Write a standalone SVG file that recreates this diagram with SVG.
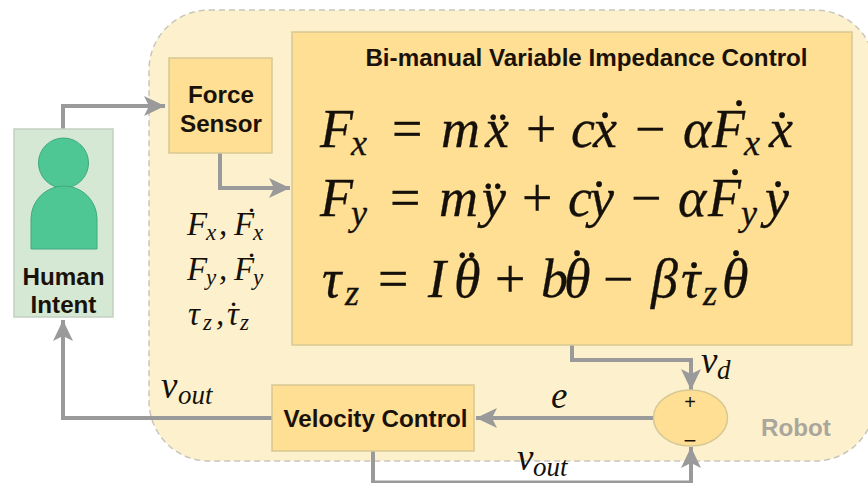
<svg xmlns="http://www.w3.org/2000/svg" width="868" height="483" viewBox="0 0 868 483">
<style>
.box{fill:#fedf94;stroke:#d8c894;stroke-width:1.5}
.t{font-family:"Liberation Sans",Arial,sans-serif;font-weight:700;font-size:24.2px;fill:#1a1208;text-anchor:middle}
.m{font-family:"Liberation Serif","Times New Roman",serif;font-style:italic;font-size:54px;fill:#15110a;stroke:#15110a;stroke-width:.3}
.m .r,.s .r,.l .r{font-style:normal}
.m .s2{font-size:36px}
.s{font-family:"Liberation Serif","Times New Roman",serif;font-style:italic;font-size:33px;fill:#15110a}
.s .s2{font-size:23px}
.l{font-family:"Liberation Serif","Times New Roman",serif;font-style:italic;font-size:37px;fill:#15110a}
.l .s2{font-size:27px}
.c{fill:none;stroke:#9a9a9a;stroke-width:4}
</style>
<defs>
<marker id="a" markerUnits="userSpaceOnUse" markerWidth="24" markerHeight="24" refX="22" refY="12" orient="auto">
<path d="M1 2 L22 12 L1 22 L6 12 Z" fill="#9a9a9a"/>
</marker>
</defs>
<rect width="868" height="483" fill="#fff"/>
<g id="robot">
<rect x="149" y="10" width="726" height="451" rx="60" ry="60" fill="#fdf1cd" stroke="#c8c6bc" stroke-width="1.5" stroke-dasharray="6 4"/>
<text x="796" y="436" class="t" style="fill:#aaa69c">Robot</text>
</g>
<g id="connectors">
<path class="c" d="M63 129V106H165" marker-end="url(#a)"/>
<path class="c" d="M220 153V188H290" marker-end="url(#a)"/>
<path class="c" d="M272 418H63V320" marker-end="url(#a)"/>
<path class="c" d="M572 345V360H691V390" marker-end="url(#a)"/>
<path class="c" d="M654 418H476" marker-end="url(#a)"/>
<path class="c" d="M373 451V482.5H691V447" marker-end="url(#a)"/>
</g>
<g id="human">
<rect x="14" y="129" width="99" height="188" fill="#d5e8d4" stroke="#c4d0c0" stroke-width="1.5"/>
<circle cx="63.5" cy="163" r="25" fill="#4fc795" stroke="#3fa87e"/>
<path d="M31 249V219A33 33 0 0 1 97 219V249Z" fill="#4fc795" stroke="#3fa87e"/>
<text x="63.5" y="285" class="t">Human</text>
<text x="63.5" y="313" class="t">Intent</text>
</g>
<g id="force-sensor">
<rect x="169" y="58" width="103" height="95" class="box"/>
<text x="221" y="103" class="t">Force</text>
<text x="221" y="132" class="t">Sensor</text>
</g>
<g id="impedance-control">
<rect x="292" y="32" width="560" height="313" class="box"/>
<text x="586.5" y="66" class="t">Bi-manual Variable Impedance Control</text>
<text class="m" y="147"><tspan x="320">F</tspan><tspan class="s2" x="351" y="155">x</tspan><tspan class="r" x="392" y="147">=</tspan><tspan x="441">m</tspan><tspan x="485">x</tspan><tspan class="r" x="489" y="149">¨</tspan><tspan class="r" x="526" y="147">+</tspan><tspan x="571">c</tspan><tspan x="593">x</tspan><tspan class="r" x="596" y="149">˙</tspan><tspan class="r" x="635" y="147">−</tspan><tspan x="683">α</tspan><tspan x="712">F</tspan><tspan class="r" x="730" y="137">˙</tspan><tspan class="s2" x="744" y="155">x</tspan><tspan x="769" y="147">x</tspan><tspan class="r" x="773" y="149">˙</tspan></text>
<text class="m" y="216"><tspan x="320">F</tspan><tspan class="s2" x="351" y="225">y</tspan><tspan class="r" x="390" y="216">=</tspan><tspan x="439">m</tspan><tspan x="482">y</tspan><tspan class="r" x="484" y="218">¨</tspan><tspan class="r" x="522" y="216">+</tspan><tspan x="568">c</tspan><tspan x="590">y</tspan><tspan class="r" x="590" y="218">˙</tspan><tspan class="r" x="631" y="216">−</tspan><tspan x="678">α</tspan><tspan x="708">F</tspan><tspan class="r" x="726" y="206">˙</tspan><tspan class="s2" x="741" y="225">y</tspan><tspan x="765" y="216">y</tspan><tspan class="r" x="769" y="218">˙</tspan></text>
<text class="m" y="297"><tspan x="322">τ</tspan><tspan class="s2" x="345" y="305">z</tspan><tspan class="r" x="378" y="297">=</tspan><tspan x="428">I</tspan><tspan x="454">θ</tspan><tspan class="r" x="458" y="287">¨</tspan><tspan class="r" x="495" y="297">+</tspan><tspan x="541">b</tspan><tspan x="564">θ</tspan><tspan class="r" x="568" y="287">˙</tspan><tspan class="r" x="603" y="297">−</tspan><tspan x="651">β</tspan><tspan x="681">τ</tspan><tspan class="r" x="685" y="299">˙</tspan><tspan class="s2" x="703" y="305">z</tspan><tspan x="722" y="297">θ</tspan><tspan class="r" x="727" y="287">˙</tspan></text>
</g>
<g id="force-labels">
<text class="s" y="235"><tspan x="187">F</tspan><tspan class="s2" x="206" y="240">x</tspan><tspan x="219" y="235">,</tspan><tspan x="234">F</tspan><tspan class="r" x="246" y="231">˙</tspan><tspan class="s2" x="253" y="240">x</tspan></text>
<text class="s" y="280"><tspan x="187">F</tspan><tspan class="s2" x="206" y="285">y</tspan><tspan x="219" y="280">,</tspan><tspan x="234">F</tspan><tspan class="r" x="246" y="276">˙</tspan><tspan class="s2" x="253" y="285">y</tspan></text>
<text class="s" y="325"><tspan x="188">τ</tspan><tspan class="s2" x="203" y="330">z</tspan><tspan x="216" y="325">,</tspan><tspan x="227">τ</tspan><tspan class="r" x="228" y="325">˙</tspan><tspan class="s2" x="240" y="330">z</tspan></text>
</g>
<g id="velocity-control">
<rect x="272" y="385" width="202" height="66" class="box"/>
<text x="375.5" y="427" class="t">Velocity Control</text>
</g>
<g id="summing">
<ellipse cx="690.5" cy="418" rx="37" ry="28" class="box"/>
<text x="690" y="409" class="t" style="font-weight:400;font-size:20px">+</text>
<text x="690" y="448" class="t" style="font-weight:400;font-size:22px">−</text>
</g>
<g id="labels">
<text class="l" y="398"><tspan x="161">v</tspan><tspan class="s2" x="178" y="404">out</tspan></text>
<text class="l" y="470"><tspan x="517">v</tspan><tspan class="s2" x="533" y="476">out</tspan></text>
<text class="l" y="373"><tspan x="701">v</tspan><tspan class="s2" x="717" y="379">d</tspan></text>
<text class="l" x="551" y="408">e</text>
</g>
</svg>
